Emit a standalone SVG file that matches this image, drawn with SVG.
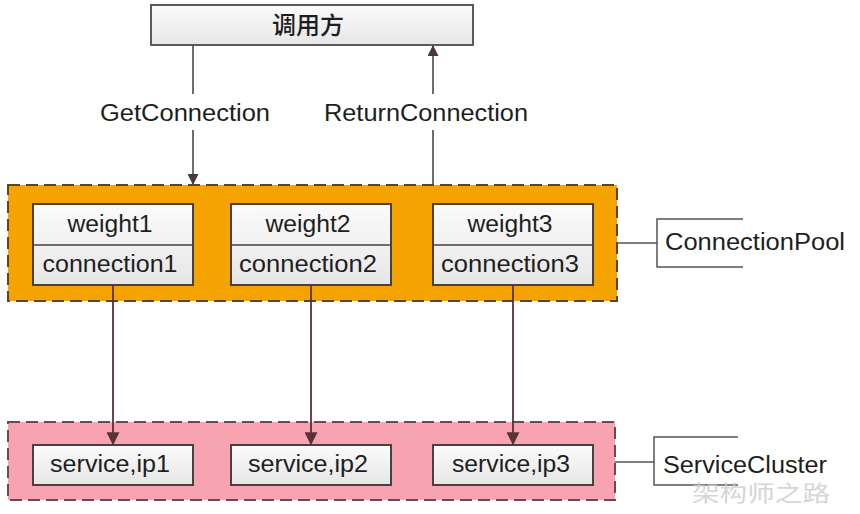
<svg xmlns="http://www.w3.org/2000/svg" width="860" height="514" viewBox="0 0 860 514">
<defs>
<linearGradient id="g" x1="0" y1="0" x2="0" y2="1">
<stop offset="0" stop-color="#fbfbfb"/><stop offset="1" stop-color="#e6e6e6"/>
</linearGradient>
<marker id="ah" viewBox="0 0 10 10" refX="9" refY="5" markerWidth="12" markerHeight="11" markerUnits="userSpaceOnUse" orient="auto">
<path d="M0,0 L10,5 L0,10 z" fill="#4a3a3a"/>
</marker>
<marker id="ah2" viewBox="0 0 10 10" refX="9" refY="5" markerWidth="13" markerHeight="13" markerUnits="userSpaceOnUse" orient="auto">
<path d="M0,0 L10,5 L0,10 z" fill="#5a3238"/>
</marker>
<style>
text{font-family:"Liberation Sans",Arial,"Noto Sans CJK SC",sans-serif;font-size:23px;fill:#1e1e1e;}
.box{fill:url(#g);stroke:#4a4040;stroke-width:2;}
.line{stroke:#4a4040;stroke-width:1.6;fill:none;}
.arr{stroke:#5a3238;stroke-width:1.8;fill:none;marker-end:url(#ah2);}
.brk{stroke:#555;stroke-width:1.5;fill:none;}
</style>
</defs>
<rect width="860" height="514" fill="#ffffff"/>

<g id="caller">
<rect x="151" y="5" width="322" height="40" fill="url(#g)" stroke="#5a5a5a" stroke-width="2"/>
<text x="308" y="34" text-anchor="middle" style="font-family:'Noto Sans CJK SC',sans-serif;font-size:24px;font-weight:500">调用方</text>
</g>

<g id="connection-pool">
<rect x="8" y="185" width="609" height="116" fill="#f5a300" stroke="#5a4528" stroke-width="2" stroke-dasharray="12,6"/>
<g id="pool-item-1">
<rect class="box" x="33" y="204" width="160" height="81"/>
<line class="line" x1="33" y1="245" x2="193" y2="245"/>
<text x="110" y="232" text-anchor="middle" textLength="85" lengthAdjust="spacingAndGlyphs">weight1</text>
<text x="110" y="272" text-anchor="middle" textLength="135" lengthAdjust="spacingAndGlyphs">connection1</text>
</g>
<g id="pool-item-2">
<rect class="box" x="231" y="204" width="160" height="81"/>
<line class="line" x1="231" y1="245" x2="391" y2="245"/>
<text x="308" y="232" text-anchor="middle" textLength="85" lengthAdjust="spacingAndGlyphs">weight2</text>
<text x="308" y="272" text-anchor="middle" textLength="138" lengthAdjust="spacingAndGlyphs">connection2</text>
</g>
<g id="pool-item-3">
<rect class="box" x="433" y="204" width="160" height="81"/>
<line class="line" x1="433" y1="245" x2="593" y2="245"/>
<text x="510" y="232" text-anchor="middle" textLength="85" lengthAdjust="spacingAndGlyphs">weight3</text>
<text x="510" y="272" text-anchor="middle" textLength="138" lengthAdjust="spacingAndGlyphs">connection3</text>
</g>
</g>

<g id="service-cluster">
<rect x="8" y="422" width="607" height="78" fill="#f7a3b2" stroke="#6a4a50" stroke-width="2" stroke-dasharray="12,6"/>
<g id="service-1">
<rect class="box" x="33" y="445" width="160" height="40"/>
<text x="110" y="472" text-anchor="middle" textLength="120" lengthAdjust="spacingAndGlyphs">service,ip1</text>
</g>
<g id="service-2">
<rect class="box" x="231" y="445" width="160" height="40"/>
<text x="308" y="472" text-anchor="middle" textLength="120" lengthAdjust="spacingAndGlyphs">service,ip2</text>
</g>
<g id="service-3">
<rect class="box" x="433" y="445" width="160" height="40"/>
<text x="511" y="472" text-anchor="middle" textLength="118" lengthAdjust="spacingAndGlyphs">service,ip3</text>
</g>
</g>

<g id="label-connectionpool">
<path class="brk" d="M617,243 H657 M743,219 H657 V267 H743"/>
<text x="665" y="250" textLength="180" lengthAdjust="spacingAndGlyphs">ConnectionPool</text>
</g>

<g id="label-servicecluster">
<path class="brk" d="M615,462 H654 M738,437 H654 V485 H738"/>
<text x="663" y="473" textLength="164" lengthAdjust="spacingAndGlyphs">ServiceCluster</text>
</g>

<g id="connectors">
<line x1="193" y1="45" x2="193" y2="94" stroke="#4a4a4a" stroke-width="1.6"/>
<line x1="193" y1="130" x2="193" y2="184" stroke="#4a4a4a" stroke-width="1.6" marker-end="url(#ah)"/>
<text x="185" y="121" text-anchor="middle" textLength="170" lengthAdjust="spacingAndGlyphs">GetConnection</text>
<line x1="433" y1="184" x2="433" y2="130" stroke="#4a4a4a" stroke-width="1.6"/>
<line x1="433" y1="94" x2="433" y2="46" stroke="#4a4a4a" stroke-width="1.6" marker-end="url(#ah)"/>
<text x="426" y="121" text-anchor="middle" textLength="204" lengthAdjust="spacingAndGlyphs">ReturnConnection</text>
<line class="arr" x1="113" y1="285" x2="113" y2="444"/>
<line class="arr" x1="311" y1="285" x2="311" y2="444"/>
<line class="arr" x1="513" y1="285" x2="513" y2="444"/>
</g>

<text x="692" y="501" style="font-family:'Noto Sans CJK SC',sans-serif;font-size:22px;fill:#cccccc;opacity:0.8" textLength="138" lengthAdjust="spacingAndGlyphs">架构师之路</text>
</svg>
